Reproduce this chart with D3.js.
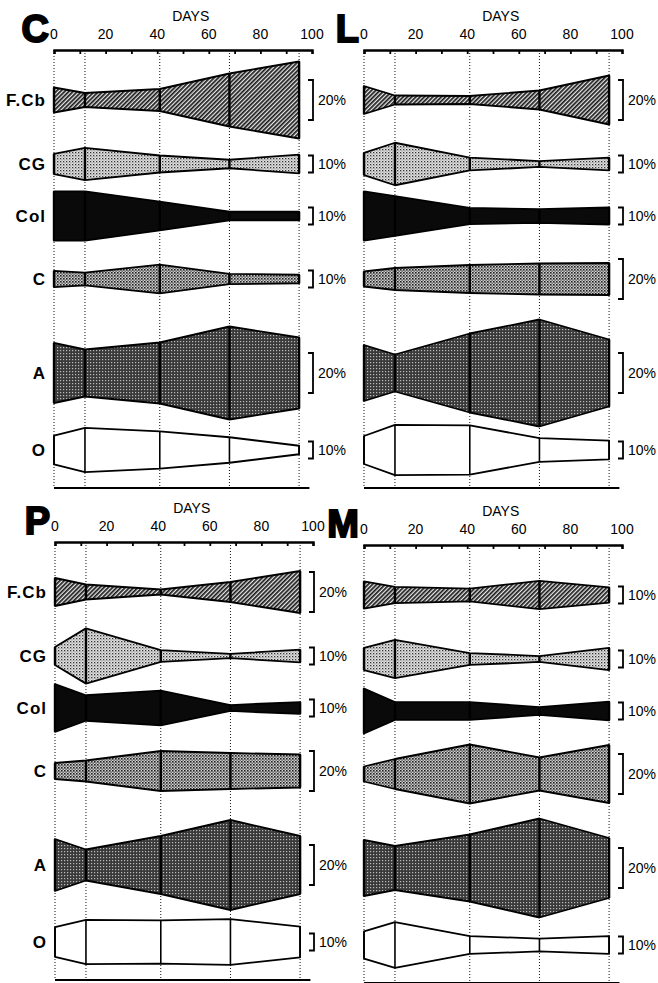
<!DOCTYPE html>
<html>
<head>
<meta charset="utf-8">
<script src="https://cdn.jsdelivr.net/npm/d3@7/dist/d3.min.js"></script>
<style>
  body { margin: 0; background: #fff; }
  svg { display: block; }
</style>
</head>
<body>
<div id="graph"></div>
<script>
// sampling days and groups
const days = [0, 12, 41, 68, 95];
const groups = ["F.Cb", "CG", "Col", "C", "A", "O"];
const tickLabels = [0, 20, 40, 60, 80, 100];

// kite widths (% of total catch), one row per group
const siteC = [
  [12.5, 7, 11, 26.5, 38.5],
  [12, 19, 10, 5, 11],
  [29, 29, 17, 5, 5],
  [9.5, 7.5, 17, 6, 5],
  [30, 23.5, 30.5, 46.5, 35.5],
  [17, 26, 22, 15, 5]
];
const siteL = [
  [14, 4.5, 4, 9.5, 24.5],
  [13, 25, 7.5, 3.5, 7.5],
  [29, 23.5, 9.5, 8, 10],
  [7.5, 11, 14, 15.5, 16],
  [28, 18.5, 39.5, 53.5, 33.5],
  [16.5, 29.5, 29, 14, 11]
];
const siteP = [
  [14, 7.5, 2.5, 10, 21],
  [10.5, 32.5, 7, 2.5, 7.5],
  [28, 15, 20.5, 3.5, 7],
  [8, 10.5, 20, 18, 16.5],
  [26, 15.5, 29, 45, 29],
  [17.5, 26, 25.5, 27, 18]
];
const siteM = [
  [16, 9.5, 7.5, 16.5, 9],
  [13, 22.5, 7, 3.5, 13],
  [26.5, 10.5, 10.5, 4.5, 11],
  [7.5, 15, 29.5, 16.5, 29],
  [28, 22, 33.5, 49.5, 30],
  [16, 27, 10.5, 7.5, 10.5]
];

// scale bars shown to the right of each row
const barsC = [20, 10, 10, 10, 20, 10];
const barsL = [20, 10, 10, 20, 20, 10];
const barsP = [20, 10, 10, 20, 20, 10];
const barsM = [10, 10, 10, 20, 20, 10];

const W = 658, H = 983;
const panelW = 258, panelH = 438;
const rowY = [50, 114, 166, 229, 323, 400];

const panels = [
  {name: "C", x: 54, y: 50, data: siteC, bars: barsC, rowLabels: true},
  {name: "L", x: 364, y: 50, data: siteL, bars: barsL, rowLabels: false},
  {name: "P", x: 55, y: 542, data: siteP, bars: barsP, rowLabels: true},
  {name: "M", x: 364, y: 545, data: siteM, bars: barsM, rowLabels: false}
];

// px per % differs a bit between the two bar sizes in the original
const width20 = d3.scaleLinear().domain([0, 20]).range([0, 40]);
const width10 = d3.scaleLinear().domain([0, 10]).range([0, 17]);
const widthFor = pct => pct === 20 ? width20 : width10;

const x = d3.scaleLinear().domain([0, 100]).range([0, panelW]);

const svg = d3.select("#graph")
  .append("svg")
    .attr("width", W)
    .attr("height", H);

// fill textures
const defs = svg.append("defs");

const hatch = defs.append("pattern")
    .attr("id", "hatch")
    .attr("patternUnits", "userSpaceOnUse")
    .attr("width", 3).attr("height", 3)
    .attr("patternTransform", "rotate(-45)");
hatch.append("rect").attr("width", 3).attr("height", 3).attr("fill", "#e8e8e8");
hatch.append("rect").attr("width", 3).attr("height", 1.7).attr("fill", "#1a1a1a");

const light = defs.append("pattern")
    .attr("id", "light")
    .attr("patternUnits", "userSpaceOnUse")
    .attr("width", 3).attr("height", 3);
light.append("rect").attr("width", 3).attr("height", 3).attr("fill", "#e2e2e2");
light.append("rect").attr("width", 1.3).attr("height", 1.3).attr("fill", "#333");
light.append("rect").attr("x", 1.5).attr("y", 1.5).attr("width", 1).attr("height", 1).attr("fill", "#666");

const mid = defs.append("pattern")
    .attr("id", "mid")
    .attr("patternUnits", "userSpaceOnUse")
    .attr("width", 3).attr("height", 3);
mid.append("rect").attr("width", 3).attr("height", 3).attr("fill", "#cfcfcf");
mid.append("rect").attr("width", 1.6).attr("height", 1.6).attr("fill", "#222");
mid.append("rect").attr("x", 1.5).attr("y", 1.5).attr("width", 1.3).attr("height", 1.3).attr("fill", "#444");

const dark = defs.append("pattern")
    .attr("id", "dark")
    .attr("patternUnits", "userSpaceOnUse")
    .attr("width", 3).attr("height", 3);
dark.append("rect").attr("width", 3).attr("height", 3).attr("fill", "#3a3a3a");
dark.append("rect").attr("width", 1.2).attr("height", 1.2).attr("fill", "#bbb");

const fills = ["url(#hatch)", "url(#light)", "#0a0a0a", "url(#mid)", "url(#dark)", "#fff"];

const font = "'Liberation Sans', Arial, sans-serif";

panels.forEach(function(p) {
  const g = svg.append("g")
      .attr("transform", "translate(" + p.x + "," + p.y + ")");

  // dotted guides at the sampling days
  g.selectAll(".guide")
    .data(days)
    .enter()
    .append("line")
      .attr("x1", d => x(d)).attr("x2", d => x(d))
      .attr("y1", 0).attr("y2", panelH)
      .attr("stroke", "#111")
      .attr("stroke-width", 1)
      .attr("stroke-dasharray", "1,2");

  // top axis
  const axis = g.append("g")
    .call(d3.axisBottom(x).tickValues(d3.range(0, 101, 10)).tickSize(4).tickFormat(""));
  axis.select(".domain").attr("stroke-width", 2.4).attr("stroke", "#000");
  axis.selectAll(".tick line").attr("stroke-width", 1.8).attr("stroke", "#000");

  g.selectAll(".ticklab")
    .data(tickLabels)
    .enter()
    .append("text")
      .attr("x", d => x(d))
      .attr("y", -11)
      .attr("text-anchor", "middle")
      .style("font-family", font)
      .style("font-size", "14px")
      .text(d => d);

  g.append("text")
    .attr("x", x(53))
    .attr("y", -29)
    .attr("text-anchor", "middle")
    .style("font-family", font)
    .style("font-size", "14px")
    .text("DAYS");

  // big site letter
  g.append("text")
    .attr("x", -5)
    .attr("y", -8)
    .attr("text-anchor", "end")
    .style("font-family", font)
    .style("font-weight", "900")
    .style("font-size", "38px")
    .style("stroke", "#000")
    .style("stroke-width", "2px")
    .text(p.name);

  // bottom line
  g.append("line")
    .attr("x1", 0).attr("x2", x(99))
    .attr("y1", panelH).attr("y2", panelH)
    .attr("stroke", "#000")
    .attr("stroke-width", 2);

  // kites
  p.data.forEach(function(vals, i) {
    const cy = rowY[i];
    const w = widthFor(p.bars[i]);
    const pts = days.map((d, j) => ({day: d, v: vals[j]}));

    const area = d3.area()
      .x(d => x(d.day))
      .y0(d => cy + w(d.v) / 2)
      .y1(d => cy - w(d.v) / 2);

    g.append("path")
      .datum(pts)
      .attr("d", area)
      .attr("fill", fills[i])
      .attr("stroke", "#000")
      .attr("stroke-width", 1.8)
      .attr("stroke-linejoin", "round");

    g.selectAll(".sep" + i)
      .data(pts)
      .enter()
      .append("line")
        .attr("x1", d => x(d.day)).attr("x2", d => x(d.day))
        .attr("y1", d => cy - w(d.v) / 2)
        .attr("y2", d => cy + w(d.v) / 2)
        .attr("stroke", "#000")
        .attr("stroke-width", i === 5 ? 1.6 : 2.4);

    // scale bracket
    const bh = w(p.bars[i]);
    const bx = x(100) + 1;
    g.append("path")
      .attr("d", "M" + (bx - 5) + "," + (cy - bh / 2) + "H" + bx + "V" + (cy + bh / 2) + "H" + (bx - 5))
      .attr("fill", "none")
      .attr("stroke", "#000")
      .attr("stroke-width", 1.8);
    g.append("text")
      .attr("x", bx + 5)
      .attr("y", cy + 5)
      .style("font-family", font)
      .style("font-size", "14px")
      .text(p.bars[i] + "%");

    if (p.rowLabels) {
      g.append("text")
        .attr("x", -8)
        .attr("y", cy + 6)
        .attr("text-anchor", "end")
        .style("font-family", font)
        .style("font-weight", "bold")
        .style("font-size", "17px")
        .style("letter-spacing", "1px")
        .text(groups[i]);
    }
  });
});
</script>
</body>
</html>
